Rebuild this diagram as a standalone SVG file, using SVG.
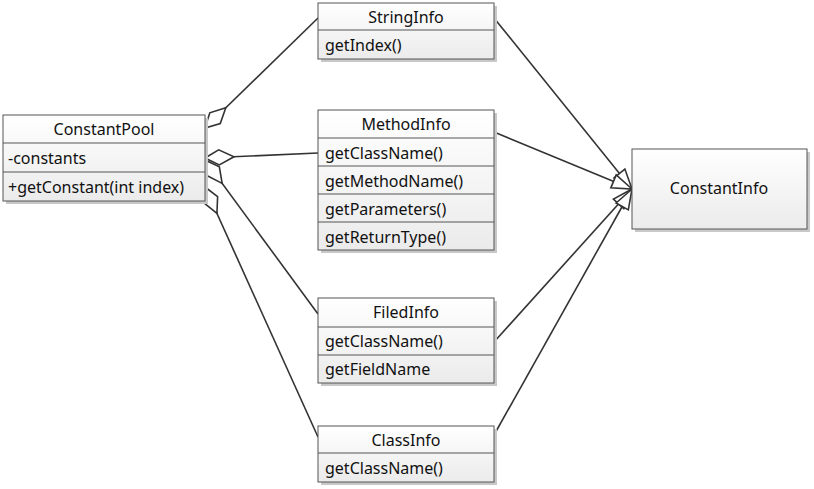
<svg xmlns="http://www.w3.org/2000/svg" width="814" height="489" viewBox="0 0 814 489">
<style>
  text { font-family: "Noto Sans", "Open Sans", "Liberation Sans", sans-serif; font-size: 16px; fill: #111; }
  .c { text-anchor: middle; }
  .box { fill: url(#g); stroke: #555; stroke-width: 1; }
  .sh { fill: #c8c8c8; }
  .div { stroke: #555; stroke-width: 1; }
  .conn line { stroke: #333; stroke-width: 1.6; fill: none; }
  .agg { marker-start: url(#diamond); }
  .gen { marker-end: url(#tri); }
</style>
<defs>
  <linearGradient id="g" x1="0" y1="0" x2="0" y2="1">
    <stop offset="0" stop-color="#ffffff"/>
    <stop offset="1" stop-color="#ebebeb"/>
  </linearGradient>
  <marker id="diamond" markerUnits="userSpaceOnUse" markerWidth="32" markerHeight="20" refX="0" refY="9" orient="auto" viewBox="-1 -1 32 20">
    <path d="M0,9 L14,1.5 L29,9 L14,16.5 Z" fill="#fff" stroke="#333" stroke-width="1.6"/>
  </marker>
  <marker id="tri" markerUnits="userSpaceOnUse" markerWidth="24" markerHeight="20" refX="22" refY="9" orient="auto" viewBox="0 0 24 20">
    <path d="M22,9 L2,2 L2,16 Z" fill="#fff" stroke="#333" stroke-width="1.6"/>
  </marker>
</defs>

<g id="connectors" class="conn">
  <line class="agg" x1="205" y1="128" x2="318" y2="18"/>
  <line class="agg" x1="205" y1="158" x2="318" y2="153"/>
  <line class="agg" x1="205" y1="160" x2="318" y2="314"/>
  <line class="agg" x1="205" y1="187" x2="318" y2="437"/>
  <line class="gen" x1="494" y1="18" x2="632" y2="189"/>
  <line class="gen" x1="494" y1="132" x2="632" y2="189"/>
  <line class="gen" x1="494" y1="342" x2="632" y2="189"/>
  <line class="gen" x1="494" y1="435" x2="632" y2="189"/>
</g>

<g id="ConstantPool">
  <rect class="sh" x="6" y="118" width="202" height="86"/>
  <rect class="box" x="3" y="115" width="202" height="86"/>
  <line class="div" x1="3" y1="143" x2="205" y2="143"/>
  <line class="div" x1="3" y1="172" x2="205" y2="172"/>
  <text class="c" x="104" y="135">ConstantPool</text>
  <text x="8" y="164">-constants</text>
  <text x="8" y="193">+getConstant(int index)</text>
</g>

<g id="StringInfo">
  <rect class="sh" x="321" y="6" width="176" height="56"/>
  <rect class="box" x="318" y="3" width="176" height="56"/>
  <line class="div" x1="318" y1="30" x2="494" y2="30"/>
  <text class="c" x="406" y="23">StringInfo</text>
  <text x="325" y="51">getIndex()</text>
</g>

<g id="MethodInfo">
  <rect class="sh" x="321" y="113" width="176" height="140"/>
  <rect class="box" x="318" y="110" width="176" height="140"/>
  <line class="div" x1="318" y1="138" x2="494" y2="138"/>
  <line class="div" x1="318" y1="166" x2="494" y2="166"/>
  <line class="div" x1="318" y1="194" x2="494" y2="194"/>
  <line class="div" x1="318" y1="222" x2="494" y2="222"/>
  <text class="c" x="406" y="130">MethodInfo</text>
  <text x="325" y="159">getClassName()</text>
  <text x="325" y="187">getMethodName()</text>
  <text x="325" y="215">getParameters()</text>
  <text x="325" y="243">getReturnType()</text>
</g>

<g id="FiledInfo">
  <rect class="sh" x="321" y="301" width="176" height="85"/>
  <rect class="box" x="318" y="298" width="176" height="85"/>
  <line class="div" x1="318" y1="327" x2="494" y2="327"/>
  <line class="div" x1="318" y1="355" x2="494" y2="355"/>
  <text class="c" x="406" y="318">FiledInfo</text>
  <text x="325" y="347">getClassName()</text>
  <text x="325" y="375">getFieldName</text>
</g>

<g id="ClassInfo">
  <rect class="sh" x="321" y="429" width="176" height="56"/>
  <rect class="box" x="318" y="426" width="176" height="56"/>
  <line class="div" x1="318" y1="453" x2="494" y2="453"/>
  <text class="c" x="406" y="446">ClassInfo</text>
  <text x="325" y="474">getClassName()</text>
</g>

<g id="ConstantInfo">
  <rect class="sh" x="635" y="152" width="175" height="80"/>
  <rect class="box" x="632" y="149" width="175" height="80"/>
  <text class="c" x="719" y="194">ConstantInfo</text>
</g>
</svg>
